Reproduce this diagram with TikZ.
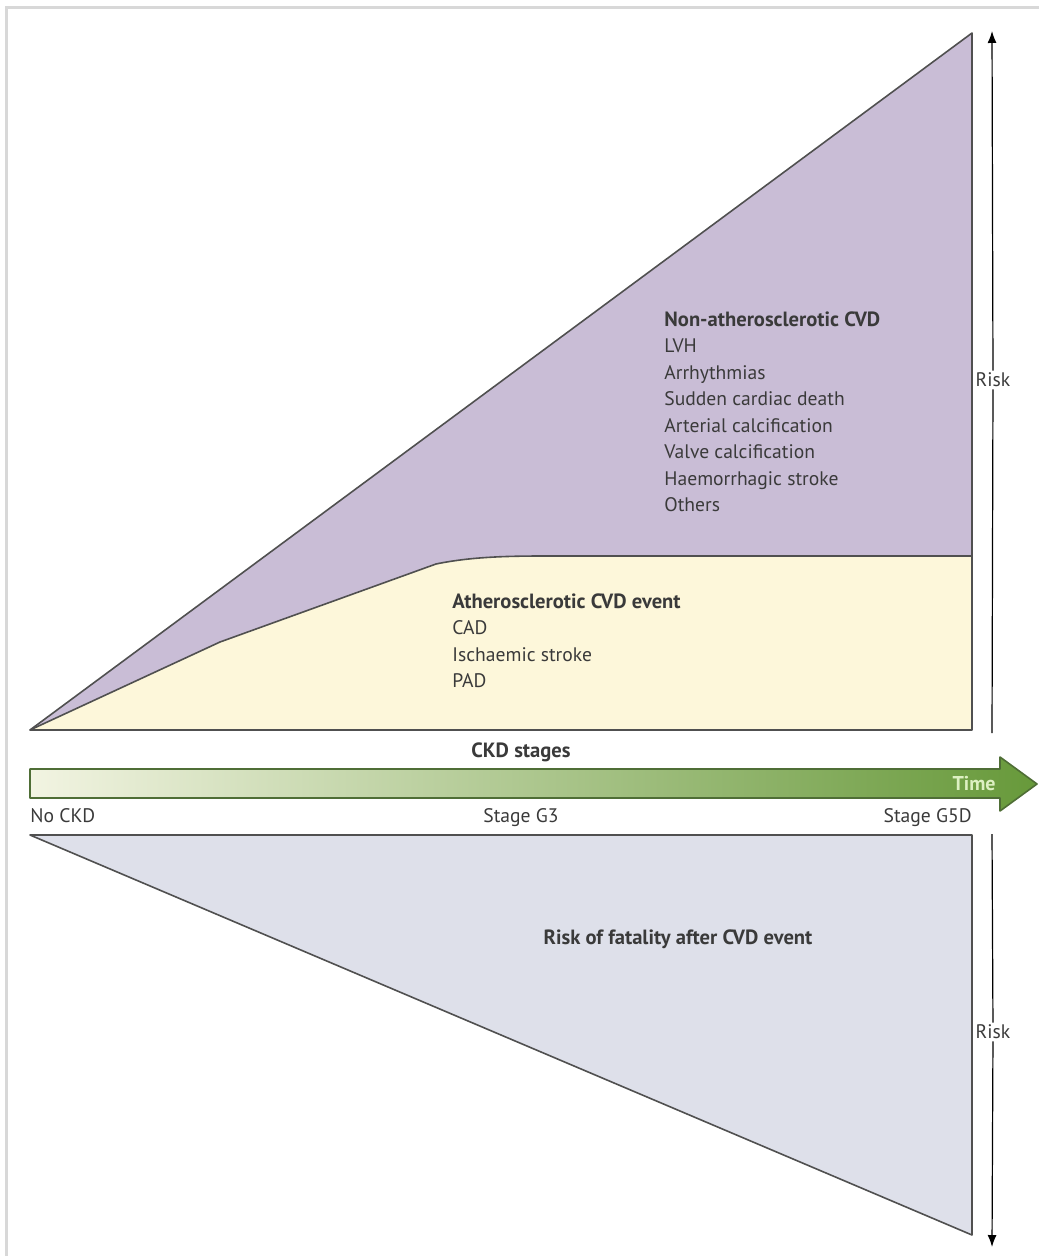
\documentclass[tikz,border=0pt]{standalone}
\usepackage{fontspec}
\setmainfont{PT Sans}
\usetikzlibrary{arrows.meta,positioning}
\definecolor{nonath}{HTML}{C9BDD6}
\definecolor{athero}{HTML}{FDF7DA}
\definecolor{fatal}{HTML}{DEE0EA}
\definecolor{edgegrey}{HTML}{505050}
\definecolor{txtgrey}{HTML}{3A3A3A}
\definecolor{framegrey}{HTML}{D8D8D8}
\definecolor{timelight}{HTML}{F2F4E2}
\definecolor{timedark}{HTML}{67993A}
\definecolor{timeedge}{HTML}{4F6E36}
\definecolor{timetext}{HTML}{DDF0C2}
\newcommand{\hdfont}{\fontsize{10.3}{13.25}\selectfont\bfseries}
\begin{document}
\begin{tikzpicture}[x=0.5pt,y=-0.5pt,font=\fontsize{9.8}{13.25}\selectfont,text=txtgrey,
  region/.style={draw=edgegrey,line width=0.8pt,line join=round},
  list/.style={align=left,anchor=north west,inner sep=0pt},
  stage/.style={inner sep=0pt,anchor=base},
  risk/.style={line width=0.6pt,draw=black},
  >={Latex[length=6pt,width=4.5pt]}]
\useasboundingbox (0,0) rectangle (1038,1256);
\draw[framegrey,line width=1.5pt] (6,1262) -- (6,8) -- (1044,8);
% upper risk triangle
\fill[nonath] (30,730) -- (972,33) -- (972,730) -- cycle;
\fill[athero] (30,730) -- (220,642) -- (436,564) .. controls (470,557) and (505,556) .. (545,556) -- (972,556) -- (972,730) -- cycle;
\draw[region] (30,730) -- (220,642) -- (436,564) .. controls (470,557) and (505,556) .. (545,556) -- (972,556);
\draw[region] (30,730) -- (972,33) -- (972,730) -- cycle;
\node[list] (nonathtxt) at (664,311) {{\hdfont Non-atherosclerotic CVD}\\LVH\\Arrhythmias\\Sudden cardiac death\\Arterial calcification\\Valve calcification\\Haemorrhagic stroke\\Others};
\node[list] (atherotxt) at (452,593) {{\hdfont Atherosclerotic CVD event}\\CAD\\Ischaemic stroke\\PAD};
% time axis
\shadedraw[left color=timelight,right color=timedark,draw=timeedge,line width=0.8pt,line join=round]
  (30,769) -- (1000,769) -- (1000,757) -- (1037,784) -- (1000,811) -- (1000,798) -- (30,798) -- cycle;
\node[font=\hdfont] (ckd) at (521,752) {CKD stages};
\node[text=timetext,anchor=east,inner sep=0pt,font=\fontsize{10}{12}\selectfont\bfseries] (time) at (996,784) {Time};
\node[stage,anchor=base west] (g0) at (30,822) {No CKD};
\node[stage] (g3) at (521,822) {Stage G3};
\node[stage,anchor=base east] (g5) at (972,822) {Stage G5D};
% lower risk triangle
\filldraw[region,fill=fatal] (30,835) -- (972,835) -- (972,1235) -- cycle;
\node[font=\hdfont] (fataltxt) at (678,939) {Risk of fatality after CVD event};
% risk arrows
\coordinate (rtop) at (992,31);
\coordinate (rmid) at (992,733);
\coordinate (rlow) at (992,834);
\coordinate (rbot) at (992,1247);
\node[inner sep=1pt] (risk1) at (993,380) {Risk};
\node[inner sep=1pt] (risk2) at (993,1032) {Risk};
\draw[risk] (rmid) -- (risk1);
\draw[risk,->] (risk1) -- (rtop);
\draw[risk] (rlow) -- (risk2);
\draw[risk,->] (risk2) -- (rbot);
\end{tikzpicture}
\end{document}
